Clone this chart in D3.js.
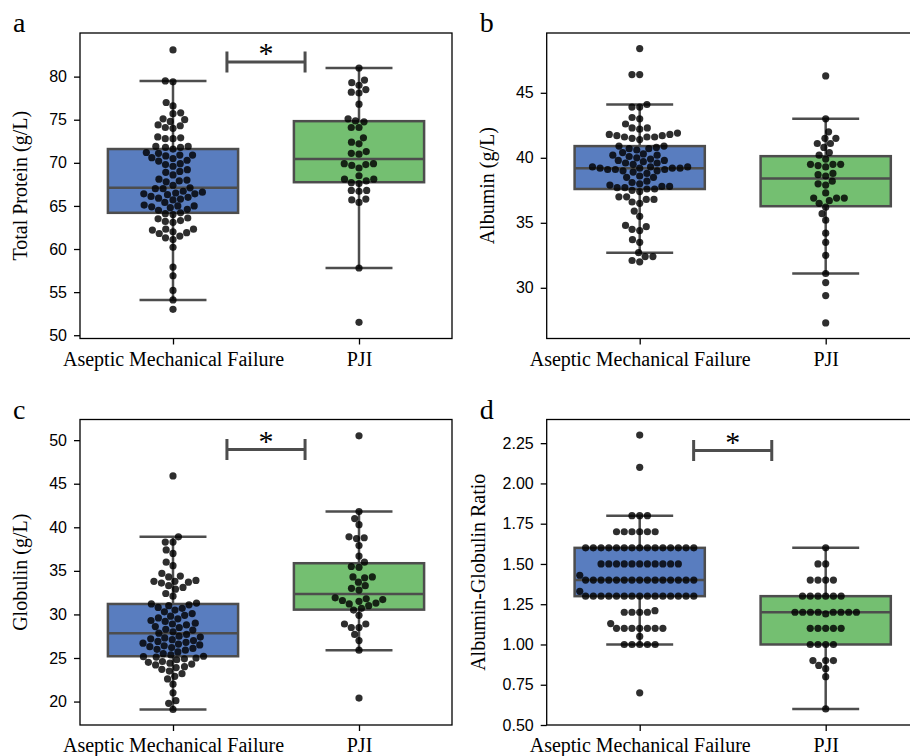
<!DOCTYPE html>
<html>
<head>
<meta charset="utf-8">
<script src="https://cdn.jsdelivr.net/npm/d3@7"></script>
<style>
  body { margin: 0; background: #fff; }
  svg { display: block; }
  .tick text.num { font-family: "Liberation Sans", Arial, sans-serif; font-size: 16px; fill: #000; }
  .serif { font-family: "Liberation Serif", "Times New Roman", serif; fill: #000; }
</style>
</head>
<body>
<svg id="chart" width="910" height="756"></svg>
<script>
// groups on the x axis
const groups = ['Aseptic Mechanical Failure', 'PJI'];

// a - Total Protein (g/L)
const proteinAMF = [83.1, 79.5, 79.4, 77.0, 76.6, 75.8, 75.7, 75.1, 75.0, 74.8, 74.4, 74.3, 74.1, 74.0,
  73.0, 72.9, 72.8, 72.8, 71.9, 71.9, 71.8, 71.8, 71.6, 71.2, 71.1, 70.9, 70.9, 70.8, 70.6, 70.5, 70.3, 70.2,
  69.9, 69.8, 69.6, 69.2, 69.0, 68.9, 68.6, 68.1, 68.0, 67.9, 67.8, 67.4, 67.1, 67.0, 67.0, 66.7, 66.6,
  66.5, 66.4, 66.4, 66.3, 66.1, 66.0, 65.9, 65.8, 65.7, 65.4, 65.1, 65.0, 65.0, 64.9, 64.8, 64.6, 64.5,
  64.2, 64.1, 64.0, 63.6, 63.5, 63.3, 63.2, 63.1, 62.3, 62.3, 62.2, 62.0, 61.9, 61.8, 61.5, 61.3, 61.1,
  60.2, 57.9, 56.9, 55.2, 54.1, 53.0];
const proteinPJI = [81.0, 79.6, 79.3, 79.0, 78.5, 78.2, 78.1, 76.8, 75.1, 74.86, 74.75, 74.1, 74.1,
  72.9, 72.4, 72.2, 71.3, 71.1, 71.0, 69.9, 69.9, 69.8, 69.7, 69.4, 68.5, 68.1, 68.1, 67.9, 67.7, 67.6,
  66.8, 66.8, 66.7, 65.8, 65.7, 65.4, 57.8, 51.5];

// b - Albumin (g/L)
const albuminAMF = [48.4, 46.4, 46.4, 44.1, 43.9, 43.9, 43.1, 43.0, 42.6, 42.3, 42.3, 42.2,
  41.9, 41.8, 41.8, 41.7, 41.7, 41.6, 41.6, 41.6, 41.5, 41.4, 40.9, 40.9, 40.8, 40.7, 40.7, 40.6,
  40.4, 40.3, 40.2, 40.2, 40.1, 40.0, 39.9, 39.8, 39.8, 39.7, 39.6, 39.6, 39.5,
  39.3, 39.3, 39.3, 39.2, 39.2, 39.2, 39.2, 39.1, 39.1, 39.1, 39.0, 39.0, 38.9,
  38.8, 38.6, 38.5, 38.5, 38.2, 38.1, 38.0, 37.9, 37.8, 37.8, 37.7, 37.7, 37.6, 37.6, 37.5, 37.4,
  37.0, 37.0, 36.8, 36.8, 36.6, 36.5, 35.9, 35.5, 34.8, 34.7, 34.5, 34.4, 33.7, 33.5, 32.7,
  32.4, 32.4, 32.1, 32.0];
const albuminPJI = [46.3, 43.0, 42.0, 41.5, 41.5, 41.1, 41.1, 40.8, 40.4, 40.2, 39.9, 39.5, 39.5, 39.5,
  39.4, 39.3, 38.8, 38.7, 38.6, 38.2, 38.0, 37.9, 37.3, 36.9, 36.9, 36.9, 36.7, 36.5, 36.2, 35.7, 35.2,
  34.2, 33.5, 32.5, 31.1, 30.4, 29.4, 27.3];

// c - Globulin (g/L)
const globulinAMF = [45.9, 38.9, 38.3, 38.3, 37.4, 37.0, 36.0, 35.6, 34.7, 34.4, 34.3,
  33.9, 33.8, 33.8, 33.7, 33.6, 33.3, 33.1, 32.9, 32.4, 32.1, 31.3, 31.2,
  31.1, 31.0, 30.8, 30.7, 30.5, 30.3, 30.1, 29.9, 29.8, 29.6, 29.5, 29.3, 29.2, 29.0,
  28.9, 28.8, 28.6, 28.5, 28.3, 28.2, 28.0, 27.85, 27.7, 27.5, 27.4, 27.3, 27.2, 27.1, 27.0,
  26.9, 26.8, 26.7, 26.6, 26.5, 26.4, 26.3, 26.2, 26.1, 26.0, 25.9, 25.7, 25.5, 25.35, 25.2,
  25.15, 25.1, 25.0, 24.9, 24.8, 24.6, 24.5, 24.4, 24.3, 24.2, 24.0, 23.9, 23.7, 23.5, 23.2,
  22.9, 22.6, 22.0, 21.0, 20.1, 19.8, 19.1];
const globulinPJI = [50.5, 41.8, 41.0, 40.3, 38.9, 38.8, 38.7, 37.9, 36.7, 36.0, 35.5, 35.4, 34.3, 34.3,
  34.2, 33.7, 33.3, 33.0, 32.8, 31.9, 31.8, 31.7, 31.6, 31.5, 31.3, 31.2, 31.0, 30.7, 30.5, 29.9,
  28.9, 28.9, 28.5, 28.5, 27.7, 27.0, 25.9, 20.4];

// d - Albumin-Globulin Ratio
const ratioAMF = [2.30, 2.10, 1.80, 1.80, 1.80, 1.70, 1.70, 1.70, 1.70, 1.70, 1.70,
  1.60, 1.60, 1.60, 1.60, 1.60, 1.60, 1.60, 1.60, 1.60, 1.60, 1.60, 1.60, 1.60, 1.60, 1.60,
  1.50, 1.50, 1.50, 1.50, 1.50, 1.50, 1.50, 1.50, 1.50, 1.50, 1.50, 1.43,
  1.40, 1.40, 1.40, 1.40, 1.40, 1.40, 1.40, 1.40, 1.40, 1.40, 1.40, 1.40, 1.40, 1.40, 1.40, 1.33,
  1.30, 1.30, 1.30, 1.30, 1.30, 1.30, 1.30, 1.30, 1.30, 1.30, 1.30, 1.30, 1.30, 1.30, 1.30,
  1.21, 1.20, 1.20, 1.20, 1.20, 1.13, 1.10, 1.10, 1.10, 1.10, 1.10, 1.10, 1.10, 1.05,
  1.00, 1.00, 1.00, 1.00, 1.00, 0.70];
const ratioPJI = [1.60, 1.50, 1.50, 1.40, 1.40, 1.40, 1.40, 1.30, 1.30, 1.30, 1.30, 1.30, 1.30,
  1.20, 1.20, 1.20, 1.20, 1.20, 1.20, 1.20, 1.20, 1.19, 1.10, 1.10, 1.10, 1.10, 1.10,
  1.00, 1.00, 1.00, 1.00, 0.90, 0.90, 0.90, 0.87, 0.85, 0.80, 0.60];

// axis ticks and limits
const proteinTicks = [50, 55, 60, 65, 70, 75, 80];
const albuminTicks = [30, 35, 40, 45];
const globulinTicks = [20, 25, 30, 35, 40, 45, 50];
const ratioTicks = [0.50, 0.75, 1.00, 1.25, 1.50, 1.75, 2.00, 2.25];
const proteinLimits = [49.62, 85.06];
const albuminLimits = [26.1, 49.6];
const globulinLimits = [17.31, 52.37];
const ratioLimits = [0.5, 2.397];

const panelLetters = ['a', 'b', 'c', 'd'];
const yLabels = ['Total Protein (g/L)', 'Albumin (g/L)', 'Globulin (g/L)', 'Albumin-Globulin Ratio'];

const panels = [
  { letter: panelLetters[0], label: yLabels[0], amf: proteinAMF, pji: proteinPJI, ticks: proteinTicks,
    limits: proteinLimits, fmt: 'd', sig: 81.7, left: 80, top: 33, labelGap: 53 },
  { letter: panelLetters[1], label: yLabels[1], amf: albuminAMF, pji: albuminPJI, ticks: albuminTicks,
    limits: albuminLimits, fmt: 'd', sig: null, left: 546.7, top: 33, labelGap: 52.5 },
  { letter: panelLetters[2], label: yLabels[2], amf: globulinAMF, pji: globulinPJI, ticks: globulinTicks,
    limits: globulinLimits, fmt: 'd', sig: 48.92, left: 80, top: 419.5, labelGap: 53 },
  { letter: panelLetters[3], label: yLabels[3], amf: ratioAMF, pji: ratioPJI, ticks: ratioTicks,
    limits: ratioLimits, fmt: '.2f', sig: 2.204, left: 546.7, top: 419.5, labelGap: 61.5 }
];

const W = 372, H = 305.5;
const boxColors = ['#597DBF', '#74BF71'];
const lineColor = '#4d4d4d';
const R = 3.68; // swarm radius used for layout

// seaborn style beeswarm: lowest values first, nearest free slot to the centre
function swarm(values, y, r) {
  const pts = values.map(v => ({ v, y: y(v) })).sort((a, b) => b.y - a.y);
  const placed = [];
  pts.forEach((p, i) => {
    if (i === 0) { p.x = 0; placed.push(p); return; }
    const nb = [];
    for (let j = placed.length - 1; j >= 0; j--) {
      if (Math.abs(p.y - placed[j].y) < 2 * r) nb.push(placed[j]); else break;
    }
    const cands = [0];
    let leftFirst = true;
    nb.forEach(q => {
      const dy = p.y - q.y;
      const dx = Math.sqrt(Math.max(4 * r * r - dy * dy, 0)) * 1.05;
      if (leftFirst) cands.push(q.x - dx, q.x + dx); else cands.push(q.x + dx, q.x - dx);
      leftFirst = !leftFirst;
    });
    cands.sort((a, b) => {
      const d = Math.abs(a) - Math.abs(b);
      return Math.abs(d) < 1e-6 ? a - b : d;
    });
    p.x = cands.find(c => nb.every(q => (q.x - c) ** 2 + (q.y - p.y) ** 2 >= 4 * r * r - 1e-6));
    placed.push(p);
  });
  return placed;
}

const svg = d3.select('#chart');

panels.forEach(p => {
  const g = svg.append('g').attr('transform', `translate(${p.left},${p.top})`);
  const x = d3.scalePoint().domain(groups).range([0, W]).padding(0.5);
  const step = x.step();
  const y = d3.scaleLinear().domain(p.limits).range([H, 0]);

  [p.amf, p.pji].forEach((vals, i) => {
    const cx = x(groups[i]);
    const s = vals.slice().sort(d3.ascending);
    const q1 = d3.quantile(s, 0.25), med = d3.quantile(s, 0.5), q3 = d3.quantile(s, 0.75);
    const iqr = q3 - q1;
    const lo = d3.min(s.filter(v => v >= q1 - 1.5 * iqr));
    const hi = d3.max(s.filter(v => v <= q3 + 1.5 * iqr));
    const bw = step * 0.7, cw = step * 0.36;

    g.append('rect')
      .attr('x', cx - bw / 2).attr('y', y(q3))
      .attr('width', bw).attr('height', y(q1) - y(q3))
      .attr('fill', boxColors[i])
      .attr('stroke', lineColor).attr('stroke-width', 2.5);
    const lines = [
      [cx, y(q3), cx, y(hi)], [cx, y(q1), cx, y(lo)],
      [cx - cw / 2, y(hi), cx + cw / 2, y(hi)], [cx - cw / 2, y(lo), cx + cw / 2, y(lo)],
      [cx - bw / 2, y(med), cx + bw / 2, y(med)]
    ];
    g.selectAll(null).data(lines).join('line')
      .attr('x1', d => d[0]).attr('y1', d => d[1])
      .attr('x2', d => d[2]).attr('y2', d => d[3])
      .attr('stroke', lineColor).attr('stroke-width', 2.5);

    // points
    g.selectAll(null).data(swarm(vals, y, R)).join('circle')
      .attr('cx', d => cx + d.x).attr('cy', d => d.y)
      .attr('r', 3.6)
      .attr('fill', '#000').attr('fill-opacity', 0.82);
  });

  // axes
  const yAxis = g.append('g')
    .call(d3.axisLeft(y).tickValues(p.ticks).tickFormat(d3.format(p.fmt)).tickSize(6).tickPadding(7));
  yAxis.select('.domain').remove();
  yAxis.selectAll('.tick line').attr('stroke', '#000').attr('stroke-width', 1.3);
  yAxis.selectAll('.tick text').attr('class', 'num').attr('font-family', null).attr('font-size', null);

  const xAxis = g.append('g').attr('transform', `translate(0,${H})`)
    .call(d3.axisBottom(x).tickSize(6));
  xAxis.select('.domain').remove();
  xAxis.selectAll('.tick line').attr('stroke', '#000').attr('stroke-width', 1.3);
  xAxis.selectAll('.tick text')
    .attr('class', 'serif').attr('font-family', null).attr('font-size', null)
    .style('font-size', '20px')
    .attr('y', 27).attr('dy', null);

  // frame
  g.append('rect').attr('width', W).attr('height', H)
    .attr('fill', 'none').attr('stroke', '#000').attr('stroke-width', 1.3);

  // y label
  g.append('text').attr('class', 'serif')
    .attr('transform', `translate(${-p.labelGap},${H / 2}) rotate(-90)`)
    .attr('text-anchor', 'middle')
    .style('font-size', '20px')
    .text(p.label);

  // panel letter
  g.append('text').attr('class', 'serif')
    .attr('x', -67).attr('y', -1)
    .style('font-size', '28px')
    .text(p.letter);

  // significance bar
  if (p.sig != null) {
    const x1 = x(groups[0]) + 0.29 * step, x2 = x(groups[0]) + 0.71 * step, yy = y(p.sig);
    g.append('path')
      .attr('d', `M${x1},${yy - 10.5}V${yy + 10.5}M${x1},${yy}H${x2}M${x2},${yy - 10.5}V${yy + 10.5}`)
      .attr('fill', 'none').attr('stroke', lineColor).attr('stroke-width', 3);
    g.append('text').attr('class', 'serif')
      .attr('x', (x1 + x2) / 2).attr('y', yy + 1)
      .attr('text-anchor', 'middle')
      .style('font-size', '30px')
      .text('*');
  }
});
</script>
</body>
</html>
